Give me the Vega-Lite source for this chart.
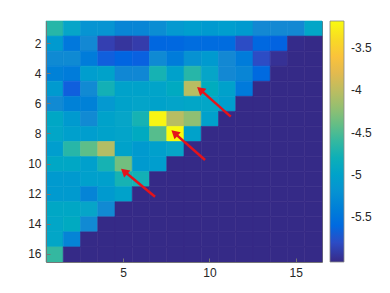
{
  "$schema": "https://vega.github.io/schema/vega-lite/v6.json",
  "width": 276,
  "height": 241,
  "autosize": {"type": "none"},
  "padding": {"left": 46, "top": 21, "right": 68, "bottom": 31},
  "background": "white",
  "config": {
    "view": {"stroke": null},
    "axis": {
      "domainColor": "#777777",
      "domainWidth": 1,
      "tickColor": "#777777",
      "tickWidth": 1,
      "tickSize": -4,
      "labelPadding": 9,
      "labelColor": "#262626",
      "labelFont": "Liberation Sans",
      "labelFontSize": 12,
      "grid": false,
      "title": null
    },
    "legend": {
      "labelFont": "Liberation Sans",
      "labelFontSize": 12,
      "labelColor": "#262626"
    }
  },
  "datasets": {
    "cells": [
      {"r":1,"c":1,"v":-4.66},{"r":1,"c":2,"v":-4.96},{"r":1,"c":3,"v":-5.18},{"r":1,"c":4,"v":-5.18},{"r":1,"c":5,"v":-5.35},{"r":1,"c":6,"v":-5.35},{"r":1,"c":7,"v":-5.26},{"r":1,"c":8,"v":-5.12},{"r":1,"c":9,"v":-5.06},{"r":1,"c":10,"v":-5.1},{"r":1,"c":11,"v":-5.06},{"r":1,"c":12,"v":-5.1},{"r":1,"c":13,"v":-5.32},{"r":1,"c":14,"v":-5.32},{"r":1,"c":15,"v":-5.32},{"r":1,"c":16,"v":-4.95},
      {"r":2,"c":1,"v":-5.1},{"r":2,"c":2,"v":-5.46},{"r":2,"c":3,"v":-5.32},{"r":2,"c":4,"v":-5.88},{"r":2,"c":5,"v":-5.95},{"r":2,"c":6,"v":-5.9},{"r":2,"c":7,"v":-5.63},{"r":2,"c":8,"v":-5.62},{"r":2,"c":9,"v":-5.57},{"r":2,"c":10,"v":-5.58},{"r":2,"c":11,"v":-5.58},{"r":2,"c":12,"v":-5.8},{"r":2,"c":13,"v":-5.62},{"r":2,"c":14,"v":-5.66},{"r":2,"c":15,"v":-6.02},{"r":2,"c":16,"v":-6.03},
      {"r":3,"c":1,"v":-5.29},{"r":3,"c":2,"v":-5.29},{"r":3,"c":3,"v":-5.43},{"r":3,"c":4,"v":-5.69},{"r":3,"c":5,"v":-5.65},{"r":3,"c":6,"v":-5.68},{"r":3,"c":7,"v":-5.29},{"r":3,"c":8,"v":-5.43},{"r":3,"c":9,"v":-5.2},{"r":3,"c":10,"v":-5.1},{"r":3,"c":11,"v":-5.32},{"r":3,"c":12,"v":-5.43},{"r":3,"c":13,"v":-5.8},{"r":3,"c":14,"v":-5.98},{"r":3,"c":15,"v":-6.03},{"r":3,"c":16,"v":-6.03},
      {"r":4,"c":1,"v":-5.38},{"r":4,"c":2,"v":-5.43},{"r":4,"c":3,"v":-5.06},{"r":4,"c":4,"v":-5.0},{"r":4,"c":5,"v":-5.33},{"r":4,"c":6,"v":-5.33},{"r":4,"c":7,"v":-4.75},{"r":4,"c":8,"v":-5.02},{"r":4,"c":9,"v":-4.66},{"r":4,"c":10,"v":-4.96},{"r":4,"c":11,"v":-5.32},{"r":4,"c":12,"v":-5.35},{"r":4,"c":13,"v":-5.6},{"r":4,"c":14,"v":-6.03},{"r":4,"c":15,"v":-6.03},{"r":4,"c":16,"v":-6.03},
      {"r":5,"c":1,"v":-5.1},{"r":5,"c":2,"v":-5.69},{"r":5,"c":3,"v":-5.3},{"r":5,"c":4,"v":-4.78},{"r":5,"c":5,"v":-5.0},{"r":5,"c":6,"v":-5.0},{"r":5,"c":7,"v":-4.98},{"r":5,"c":8,"v":-4.88},{"r":5,"c":9,"v":-4.03},{"r":5,"c":10,"v":-4.85},{"r":5,"c":11,"v":-5.02},{"r":5,"c":12,"v":-5.45},{"r":5,"c":13,"v":-6.03},{"r":5,"c":14,"v":-6.03},{"r":5,"c":15,"v":-6.03},{"r":5,"c":16,"v":-6.03},
      {"r":6,"c":1,"v":-5.3},{"r":6,"c":2,"v":-5.38},{"r":6,"c":3,"v":-5.38},{"r":6,"c":4,"v":-5.12},{"r":6,"c":5,"v":-5.0},{"r":6,"c":6,"v":-4.97},{"r":6,"c":7,"v":-5.0},{"r":6,"c":8,"v":-4.97},{"r":6,"c":9,"v":-4.95},{"r":6,"c":10,"v":-4.95},{"r":6,"c":11,"v":-5.05},{"r":6,"c":12,"v":-6.03},{"r":6,"c":13,"v":-6.03},{"r":6,"c":14,"v":-6.03},{"r":6,"c":15,"v":-6.03},{"r":6,"c":16,"v":-6.03},
      {"r":7,"c":1,"v":-4.93},{"r":7,"c":2,"v":-5.1},{"r":7,"c":3,"v":-5.3},{"r":7,"c":4,"v":-5.0},{"r":7,"c":5,"v":-4.96},{"r":7,"c":6,"v":-4.75},{"r":7,"c":7,"v":-3.22},{"r":7,"c":8,"v":-4.03},{"r":7,"c":9,"v":-4.23},{"r":7,"c":10,"v":-5.02},{"r":7,"c":11,"v":-6.03},{"r":7,"c":12,"v":-6.03},{"r":7,"c":13,"v":-6.03},{"r":7,"c":14,"v":-6.03},{"r":7,"c":15,"v":-6.03},{"r":7,"c":16,"v":-6.03},
      {"r":8,"c":1,"v":-4.95},{"r":8,"c":2,"v":-5.03},{"r":8,"c":3,"v":-5.06},{"r":8,"c":4,"v":-5.0},{"r":8,"c":5,"v":-4.97},{"r":8,"c":6,"v":-4.88},{"r":8,"c":7,"v":-4.46},{"r":8,"c":8,"v":-3.18},{"r":8,"c":9,"v":-5.0},{"r":8,"c":10,"v":-6.03},{"r":8,"c":11,"v":-6.03},{"r":8,"c":12,"v":-6.03},{"r":8,"c":13,"v":-6.03},{"r":8,"c":14,"v":-6.03},{"r":8,"c":15,"v":-6.03},{"r":8,"c":16,"v":-6.03},
      {"r":9,"c":1,"v":-5.06},{"r":9,"c":2,"v":-4.66},{"r":9,"c":3,"v":-4.43},{"r":9,"c":4,"v":-4.06},{"r":9,"c":5,"v":-5.0},{"r":9,"c":6,"v":-5.1},{"r":9,"c":7,"v":-5.03},{"r":9,"c":8,"v":-4.96},{"r":9,"c":9,"v":-6.03},{"r":9,"c":10,"v":-6.03},{"r":9,"c":11,"v":-6.03},{"r":9,"c":12,"v":-6.03},{"r":9,"c":13,"v":-6.03},{"r":9,"c":14,"v":-6.03},{"r":9,"c":15,"v":-6.03},{"r":9,"c":16,"v":-6.03},
      {"r":10,"c":1,"v":-4.93},{"r":10,"c":2,"v":-4.93},{"r":10,"c":3,"v":-5.03},{"r":10,"c":4,"v":-4.75},{"r":10,"c":5,"v":-4.35},{"r":10,"c":6,"v":-5.1},{"r":10,"c":7,"v":-5.06},{"r":10,"c":8,"v":-6.03},{"r":10,"c":9,"v":-6.03},{"r":10,"c":10,"v":-6.03},{"r":10,"c":11,"v":-6.03},{"r":10,"c":12,"v":-6.03},{"r":10,"c":13,"v":-6.03},{"r":10,"c":14,"v":-6.03},{"r":10,"c":15,"v":-6.03},{"r":10,"c":16,"v":-6.03},
      {"r":11,"c":1,"v":-5.1},{"r":11,"c":2,"v":-5.1},{"r":11,"c":3,"v":-5.03},{"r":11,"c":4,"v":-5.03},{"r":11,"c":5,"v":-4.75},{"r":11,"c":6,"v":-4.78},{"r":11,"c":7,"v":-6.03},{"r":11,"c":8,"v":-6.03},{"r":11,"c":9,"v":-6.03},{"r":11,"c":10,"v":-6.03},{"r":11,"c":11,"v":-6.03},{"r":11,"c":12,"v":-6.03},{"r":11,"c":13,"v":-6.03},{"r":11,"c":14,"v":-6.03},{"r":11,"c":15,"v":-6.03},{"r":11,"c":16,"v":-6.03},
      {"r":12,"c":1,"v":-5.1},{"r":12,"c":2,"v":-5.1},{"r":12,"c":3,"v":-5.36},{"r":12,"c":4,"v":-5.1},{"r":12,"c":5,"v":-5.0},{"r":12,"c":6,"v":-6.03},{"r":12,"c":7,"v":-6.03},{"r":12,"c":8,"v":-6.03},{"r":12,"c":9,"v":-6.03},{"r":12,"c":10,"v":-6.03},{"r":12,"c":11,"v":-6.03},{"r":12,"c":12,"v":-6.03},{"r":12,"c":13,"v":-6.03},{"r":12,"c":14,"v":-6.03},{"r":12,"c":15,"v":-6.03},{"r":12,"c":16,"v":-6.03},
      {"r":13,"c":1,"v":-4.93},{"r":13,"c":2,"v":-4.93},{"r":13,"c":3,"v":-4.96},{"r":13,"c":4,"v":-5.3},{"r":13,"c":5,"v":-6.03},{"r":13,"c":6,"v":-6.03},{"r":13,"c":7,"v":-6.03},{"r":13,"c":8,"v":-6.03},{"r":13,"c":9,"v":-6.03},{"r":13,"c":10,"v":-6.03},{"r":13,"c":11,"v":-6.03},{"r":13,"c":12,"v":-6.03},{"r":13,"c":13,"v":-6.03},{"r":13,"c":14,"v":-6.03},{"r":13,"c":15,"v":-6.03},{"r":13,"c":16,"v":-6.03},
      {"r":14,"c":1,"v":-4.95},{"r":14,"c":2,"v":-4.88},{"r":14,"c":3,"v":-5.3},{"r":14,"c":4,"v":-6.03},{"r":14,"c":5,"v":-6.03},{"r":14,"c":6,"v":-6.03},{"r":14,"c":7,"v":-6.03},{"r":14,"c":8,"v":-6.03},{"r":14,"c":9,"v":-6.03},{"r":14,"c":10,"v":-6.03},{"r":14,"c":11,"v":-6.03},{"r":14,"c":12,"v":-6.03},{"r":14,"c":13,"v":-6.03},{"r":14,"c":14,"v":-6.03},{"r":14,"c":15,"v":-6.03},{"r":14,"c":16,"v":-6.03},
      {"r":15,"c":1,"v":-4.95},{"r":15,"c":2,"v":-5.36},{"r":15,"c":3,"v":-6.03},{"r":15,"c":4,"v":-6.03},{"r":15,"c":5,"v":-6.03},{"r":15,"c":6,"v":-6.03},{"r":15,"c":7,"v":-6.03},{"r":15,"c":8,"v":-6.03},{"r":15,"c":9,"v":-6.03},{"r":15,"c":10,"v":-6.03},{"r":15,"c":11,"v":-6.03},{"r":15,"c":12,"v":-6.03},{"r":15,"c":13,"v":-6.03},{"r":15,"c":14,"v":-6.03},{"r":15,"c":15,"v":-6.03},{"r":15,"c":16,"v":-6.03},
      {"r":16,"c":1,"v":-4.6},{"r":16,"c":2,"v":-6.03},{"r":16,"c":3,"v":-6.03},{"r":16,"c":4,"v":-6.03},{"r":16,"c":5,"v":-6.03},{"r":16,"c":6,"v":-6.03},{"r":16,"c":7,"v":-6.03},{"r":16,"c":8,"v":-6.03},{"r":16,"c":9,"v":-6.03},{"r":16,"c":10,"v":-6.03},{"r":16,"c":11,"v":-6.03},{"r":16,"c":12,"v":-6.03},{"r":16,"c":13,"v":-6.03},{"r":16,"c":14,"v":-6.03},{"r":16,"c":15,"v":-6.03},{"r":16,"c":16,"v":-6.03}
    ],
    "arrows": [
      {"tx": 11.21, "ty": 6.85, "hx": 9.44, "hy": 5.06},
      {"tx": 9.72, "ty": 9.73, "hx": 7.95, "hy": 7.94},
      {"tx": 6.82, "ty": 12.17, "hx": 5.03, "hy": 10.48}
    ]
  },
  "layer": [
    {
      "data": {"name": "cells"},
      "mark": {"type": "rect", "strokeWidth": 0.6, "stroke": {"expr": "scale('color', datum.v)"}},
      "encoding": {
        "x": {"field": "c", "type": "ordinal", "scale": {"paddingInner": 0, "paddingOuter": 0},
              "axis": {"orient": "bottom", "values": [5, 10, 15], "labelAngle": 0}},
        "y": {"field": "r", "type": "ordinal", "scale": {"paddingInner": 0, "paddingOuter": 0},
              "axis": {"orient": "left", "values": [2, 4, 6, 8, 10, 12, 14, 16]}},
        "color": {
          "field": "v", "type": "quantitative",
          "scale": {"domain": [-6.03, -3.18],
                    "range": ["#352a87", "#3243b9", "#0462e1", "#0c74dd", "#1488d3", "#0a97d1", "#06a5c8", "#13b0b6", "#33b8a1", "#5ebe89", "#8bbf75", "#b1bd66", "#d2bb58", "#f2b948", "#fec932", "#f5df21", "#f9fb0e"]},
          "legend": {
            "type": "gradient",
            "title": null, "orient": "right", "offset": 7, "padding": 0,
            "direction": "vertical",
            "gradientLength": 241, "gradientThickness": 14,
            "gradientStrokeColor": "#888888", "gradientStrokeWidth": 0.8,
            "values": [-5.5, -5, -4.5, -4, -3.5],
            "labelExpr": "'' + datum.value",
            "labelOffset": 7
          }
        }
      }
    },
    {
      "data": {"name": "arrows"},
      "layer": [
        {
          "mark": {"type": "rule", "color": "#e5131a", "strokeWidth": 2.5},
          "encoding": {
            "x": {"field": "tx", "type": "quantitative", "scale": {"domain": [0.5, 16.5], "nice": false, "zero": false},
                  "axis": {"orient": "top", "values": [5, 10, 15], "labels": false}},
            "y": {"field": "ty", "type": "quantitative", "scale": {"domain": [0.5, 16.5], "nice": false, "zero": false, "reverse": true},
                  "axis": {"orient": "right", "values": [2, 4, 6, 8, 10, 12, 14, 16], "labels": false}},
            "x2": {"field": "hx"},
            "y2": {"field": "hy"}
          }
        },
        {
          "mark": {"type": "point", "shape": "triangle-up", "filled": true, "color": "#e5131a", "opacity": 1, "size": 90, "angle": 311, "strokeWidth": 0},
          "encoding": {
            "x": {"field": "hx", "type": "quantitative"},
            "y": {"field": "hy", "type": "quantitative"}
          }
        }
      ]
    }
  ],
  "resolve": {"scale": {"x": "independent", "y": "independent"}}
}
